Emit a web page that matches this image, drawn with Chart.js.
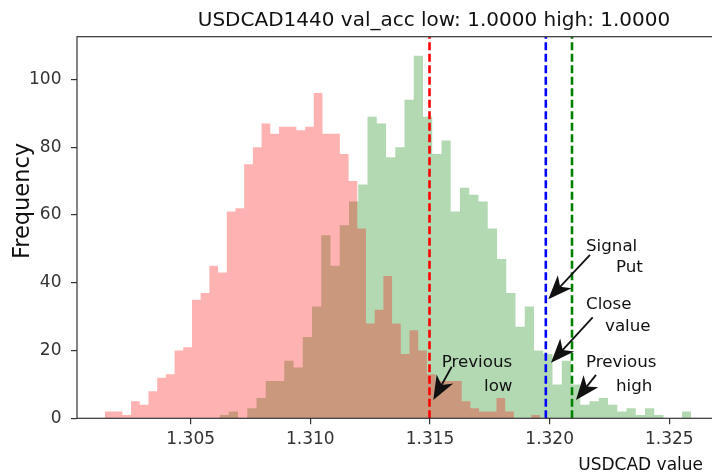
<!DOCTYPE html>
<html lang="en">
<head>
  <meta charset="UTF-8">
  <title>USDCAD1440 val_acc</title>
  <script src="https://cdn.jsdelivr.net/npm/chart.js"></script>
  <style>
    html, body { margin: 0; padding: 0; background: #fff; }
    .chart-box { position: relative; width: 712px; height: 475px; }
  </style>
</head>
<body>
  <div class="chart-box"><canvas id="histChart"></canvas></div>

  <script>
    // "low" histogram (red) : first bin edge, bin width, counts
    const lowStart = 1.3014187
    const lowWidth = 0.00036356
    const lowCounts = [2, 2, 1, 5, 4, 8, 12, 13, 20, 21, 35, 37, 45, 43, 61, 62, 75, 80, 87, 84,
      86, 86, 85, 86, 96, 84, 84, 78, 70, 56, 28, 32, 42, 28, 19, 26, 20, 13, 11, 11,
      11, 5, 3, 2, 2, 6, 2, 0, 0, 1]

    // "high" histogram (green)
    const highStart = 1.3062035
    const highWidth = 0.00038654
    const highCounts = [1, 2, 0, 3, 6, 11, 11, 17, 15, 24, 33, 54, 45, 57, 64, 69, 89, 87, 77, 80,
      94, 107, 89, 78, 82, 61, 68, 66, 64, 56, 47, 37, 27, 33, 20, 19, 10, 17, 10, 4,
      5, 6, 4, 2, 3, 1, 3, 1, 0, 0, 2]

    // dashed markers
    const prevLow = 1.31498
    const signalPut = 1.31984
    const prevHigh = 1.320934

    const xTicks = [1.305, 1.310, 1.315, 1.320, 1.325]
    const yTicks = [0, 20, 40, 60, 80, 100]
    const xMin = 1.30025, xMax = 1.326784, yMax = 112.6

    // annotations: text lines [text, x, y] in data units, arrow tail -> tip
    const notes = [
      { lines: [['Signal', 1.321519, 49.5], ['Put', 1.322773, 43.1]], tail: [1.321686, 48.2], tip: [1.319944, 35.1] },
      { lines: [['Close', 1.321519, 32.3], ['value', 1.322313, 25.8]], tail: [1.321799, 29.8], tip: [1.320056, 16.4] },
      { lines: [['Previous', 1.321519, 15.1], ['high', 1.322773, 8.1]], tail: [1.321937, 12.8], tip: [1.321101, 5.4] },
      { lines: [['Previous', 1.315489, 15.1], ['low', 1.317257, 8.1]], tail: [1.315907, 15.2], tip: [1.315138, 5.4] }
    ]

    const FONT = '"DejaVu Sans", sans-serif'

    // histogram as a stepped outline through the bin edges
    function steps(start, width, counts) {
      const pts = counts.map((c, i) => ({ x: start + i * width, y: c }))
      pts.push({ x: start + counts.length * width, y: 0 })
      return pts
    }
    function vline(v) {
      return [{ x: v, y: 0 }, { x: v, y: yMax }]
    }

    function drawArrow(ctx, x1, y1, x2, y2) {
      const dx = x1 - x2, dy = y1 - y2
      const len = Math.hypot(dx, dy)
      const ux = dx / len, uy = dy / len
      const nx = -uy, ny = ux
      const hl = Math.min(24, len * 0.8), hw = 9.5
      ctx.beginPath()
      ctx.moveTo(x1, y1)
      ctx.lineTo(x2 + ux * hl * 0.7, y2 + uy * hl * 0.7)
      ctx.lineWidth = 1.8
      ctx.stroke()
      ctx.beginPath()
      ctx.moveTo(x2, y2)
      ctx.lineTo(x2 + ux * hl + nx * hw, y2 + uy * hl + ny * hw)
      ctx.lineTo(x2 + ux * hl * 0.72, y2 + uy * hl * 0.72)
      ctx.lineTo(x2 + ux * hl - nx * hw, y2 + uy * hl - ny * hw)
      ctx.closePath()
      ctx.fill()
    }

    const decorations = {
      id: 'decorations',
      afterDatasetsDraw(chart) {
        const { ctx, chartArea: a } = chart
        ctx.save()
        ctx.strokeStyle = '#333'
        ctx.lineWidth = 1.2
        ctx.strokeRect(a.left, a.top, a.right - a.left + 5, a.bottom - a.top)
        ctx.restore()
      },
      afterDraw(chart) {
        const { ctx } = chart
        const xs = chart.scales.x, ys = chart.scales.y
        ctx.save()
        ctx.fillStyle = '#111'
        ctx.strokeStyle = '#111'

        // title
        ctx.font = '20px ' + FONT
        ctx.textAlign = 'center'
        ctx.textBaseline = 'alphabetic'
        ctx.fillText('USDCAD1440 val_acc low: 1.0000 high: 1.0000', 434, 26.3)

        // axis labels
        ctx.font = '17px ' + FONT
        ctx.textAlign = 'right'
        ctx.fillText('USDCAD value', 703, 470)

        ctx.save()
        ctx.translate(28.5, 201)
        ctx.rotate(-Math.PI / 2)
        ctx.font = '22.5px ' + FONT
        ctx.textAlign = 'center'
        ctx.fillText('Frequency', 0, 0)
        ctx.restore()

        // annotations
        ctx.font = '16.7px ' + FONT
        ctx.textAlign = 'left'
        notes.forEach(n => {
          n.lines.forEach(([t, x, y]) => {
            ctx.fillText(t, xs.getPixelForValue(x), ys.getPixelForValue(y))
          })
          drawArrow(ctx,
            xs.getPixelForValue(n.tail[0]), ys.getPixelForValue(n.tail[1]),
            xs.getPixelForValue(n.tip[0]), ys.getPixelForValue(n.tip[1]))
        })
        ctx.restore()
      }
    }

    const marker = (v, color) => ({
      data: vline(v),
      borderColor: color,
      borderWidth: 2.6,
      borderDash: [8, 3.5],
      fill: false,
      order: 0
    })

    const ctx = document.getElementById('histChart').getContext('2d')
    new Chart(ctx, {
      type: 'line',
      data: {
        datasets: [
          {
            data: steps(lowStart, lowWidth, lowCounts),
            stepped: true,
            fill: 'origin',
            backgroundColor: 'rgba(255, 0, 0, 0.3)',
            borderColor: 'rgba(0, 0, 0, 0)',
            borderWidth: 0,
            order: 1
          },
          {
            data: steps(highStart, highWidth, highCounts),
            stepped: true,
            fill: 'origin',
            backgroundColor: 'rgba(0, 128, 0, 0.3)',
            borderColor: 'rgba(0, 0, 0, 0)',
            borderWidth: 0,
            order: 2
          },
          marker(prevLow, 'rgb(255, 0, 0)'),
          marker(signalPut, 'rgb(0, 0, 255)'),
          marker(prevHigh, 'rgb(0, 128, 0)')
        ]
      },
      options: {
        responsive: true,
        maintainAspectRatio: false,
        animation: false,
        events: [],
        layout: { padding: { top: 36.7, left: 0, right: 0, bottom: 0 } },
        elements: { point: { radius: 0 }, line: { tension: 0 } },
        plugins: { legend: { display: false }, tooltip: { enabled: false } },
        scales: {
          x: {
            type: 'linear',
            min: xMin,
            max: xMax,
            afterFit: s => { s.height = 56.7 },
            afterBuildTicks: s => { s.ticks = xTicks.map(v => ({ value: v })) },
            ticks: {
              callback: v => v.toFixed(3),
              font: { family: FONT, size: 17 },
              color: '#333',
              padding: 5,
              maxRotation: 0,
              autoSkip: false
            },
            grid: { drawOnChartArea: false, drawTicks: true, tickLength: 6, color: '#333', lineWidth: 1.2 },
            border: { display: false }
          },
          y: {
            type: 'linear',
            min: 0,
            max: yMax,
            afterFit: s => { s.width = 77 },
            afterBuildTicks: s => { s.ticks = yTicks.map(v => ({ value: v })) },
            ticks: {
              font: { family: FONT, size: 17 },
              color: '#333',
              padding: 9.5,
              autoSkip: false
            },
            grid: { drawOnChartArea: false, drawTicks: true, tickLength: 6, color: '#333', lineWidth: 1.2 },
            border: { display: false }
          }
        }
      },
      plugins: [decorations]
    })
  </script>
</body>
</html>
